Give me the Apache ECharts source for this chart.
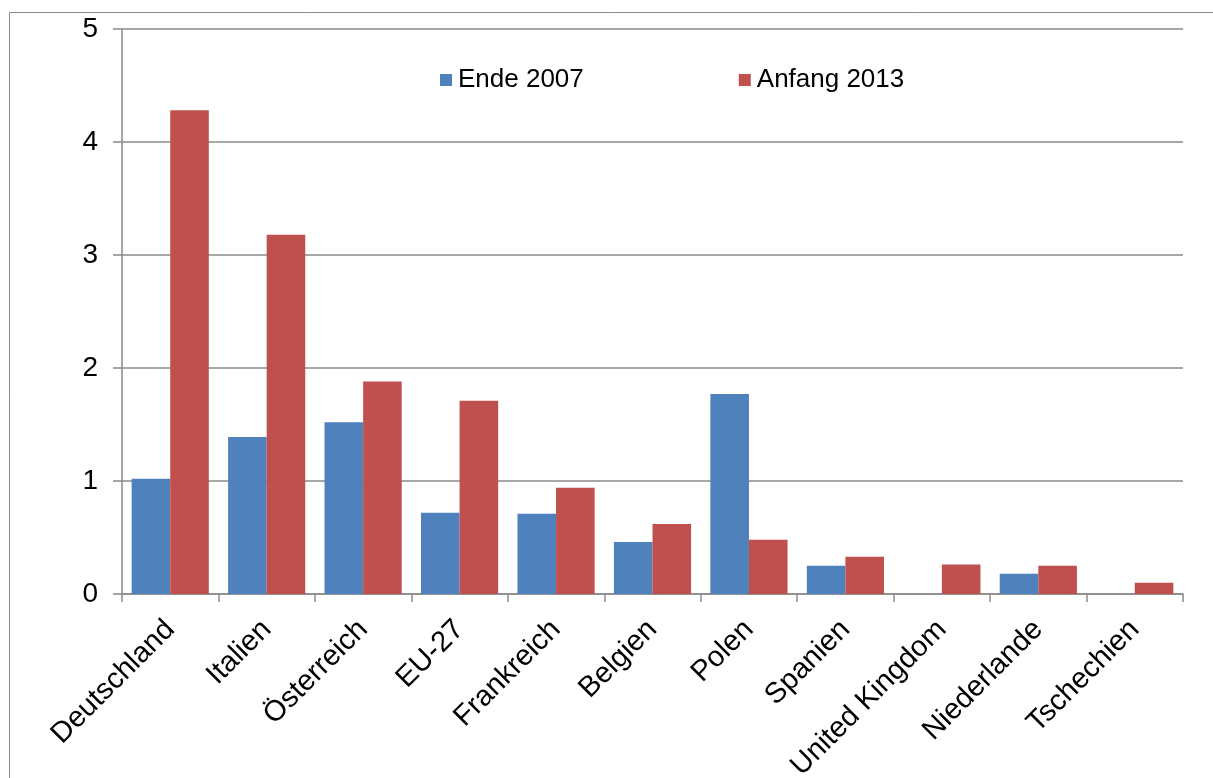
<!DOCTYPE html>
<html>
<head>
<meta charset="utf-8">
<script src="https://cdn.jsdelivr.net/npm/echarts@6/dist/echarts.min.js"></script>
<style>
  html, body { margin: 0; padding: 0; background: #fff; }
  #chart { width: 1213px; height: 778px; }
</style>
</head>
<body>
<div id="chart"></div>
<script>
// Countries along the x axis
const countries = ['Deutschland', 'Italien', 'Österreich', 'EU-27', 'Frankreich', 'Belgien',
  'Polen', 'Spanien', 'United Kingdom', 'Niederlande', 'Tschechien'];

// Values per country for the two points in time
const ende2007 = [1.02, 1.39, 1.52, 0.72, 0.71, 0.46, 1.77, 0.25, 0, 0.18, 0];
const anfang2013 = [4.28, 3.18, 1.88, 1.71, 0.94, 0.62, 0.48, 0.33, 0.26, 0.25, 0.10];

const seriesNames = ['Ende 2007', 'Anfang 2013'];
const yTicks = { min: 0, max: 5, interval: 1 };

const FONT = '"Liberation Sans", Arial, sans-serif';
const GRID_GREY = '#8a8a8a';

const chart = echarts.init(document.getElementById('chart'), null, { renderer: 'canvas' });

chart.setOption({
  backgroundColor: '#ffffff',
  animation: false,
  graphic: [{
    // outer chart frame
    type: 'rect',
    shape: { x: 9.5, y: 12.5, width: 1300, height: 900 },
    style: { fill: 'none', stroke: '#8c8c8c', lineWidth: 1 },
    silent: true,
    z: -1
  }],
  legend: {
    data: seriesNames,
    left: 440,
    top: 67,
    padding: 0,
    itemWidth: 12,
    itemHeight: 12,
    itemGap: 155,
    icon: 'rect',
    textStyle: { fontFamily: FONT, fontSize: 26, color: '#000', padding: [0, 0, 0, 1] }
  },
  grid: { left: 122, right: 30, top: 29, bottom: 184, containLabel: false, outerBoundsMode: 'none' },
  xAxis: {
    type: 'category',
    data: countries,
    boundaryGap: true,
    axisLine: { lineStyle: { color: GRID_GREY, width: 1.5 } },
    axisTick: { show: true, length: 8, interval: 0, lineStyle: { color: GRID_GREY, width: 1.5 } },
    axisLabel: {
      interval: 0,
      rotate: 45,
      margin: 31,
      fontFamily: FONT,
      fontSize: 29,
      color: '#000'
    }
  },
  yAxis: {
    type: 'value',
    min: yTicks.min,
    max: yTicks.max,
    interval: yTicks.interval,
    axisLine: { show: true, lineStyle: { color: GRID_GREY, width: 1.5 } },
    axisTick: { show: true, length: 9, lineStyle: { color: GRID_GREY, width: 1.5 } },
    splitLine: { show: true, lineStyle: { color: GRID_GREY, width: 1.5 } },
    axisLabel: { margin: 24, fontFamily: FONT, fontSize: 28, color: '#000' }
  },
  series: [
    {
      name: seriesNames[0],
      type: 'bar',
      data: ende2007,
      barGap: '0%',
      barCategoryGap: '20%',
      itemStyle: { color: '#4F81BD' }
    },
    {
      name: seriesNames[1],
      type: 'bar',
      data: anfang2013,
      barGap: '0%',
      barCategoryGap: '20%',
      itemStyle: { color: '#C0504D' }
    }
  ]
});
</script>
</body>
</html>
